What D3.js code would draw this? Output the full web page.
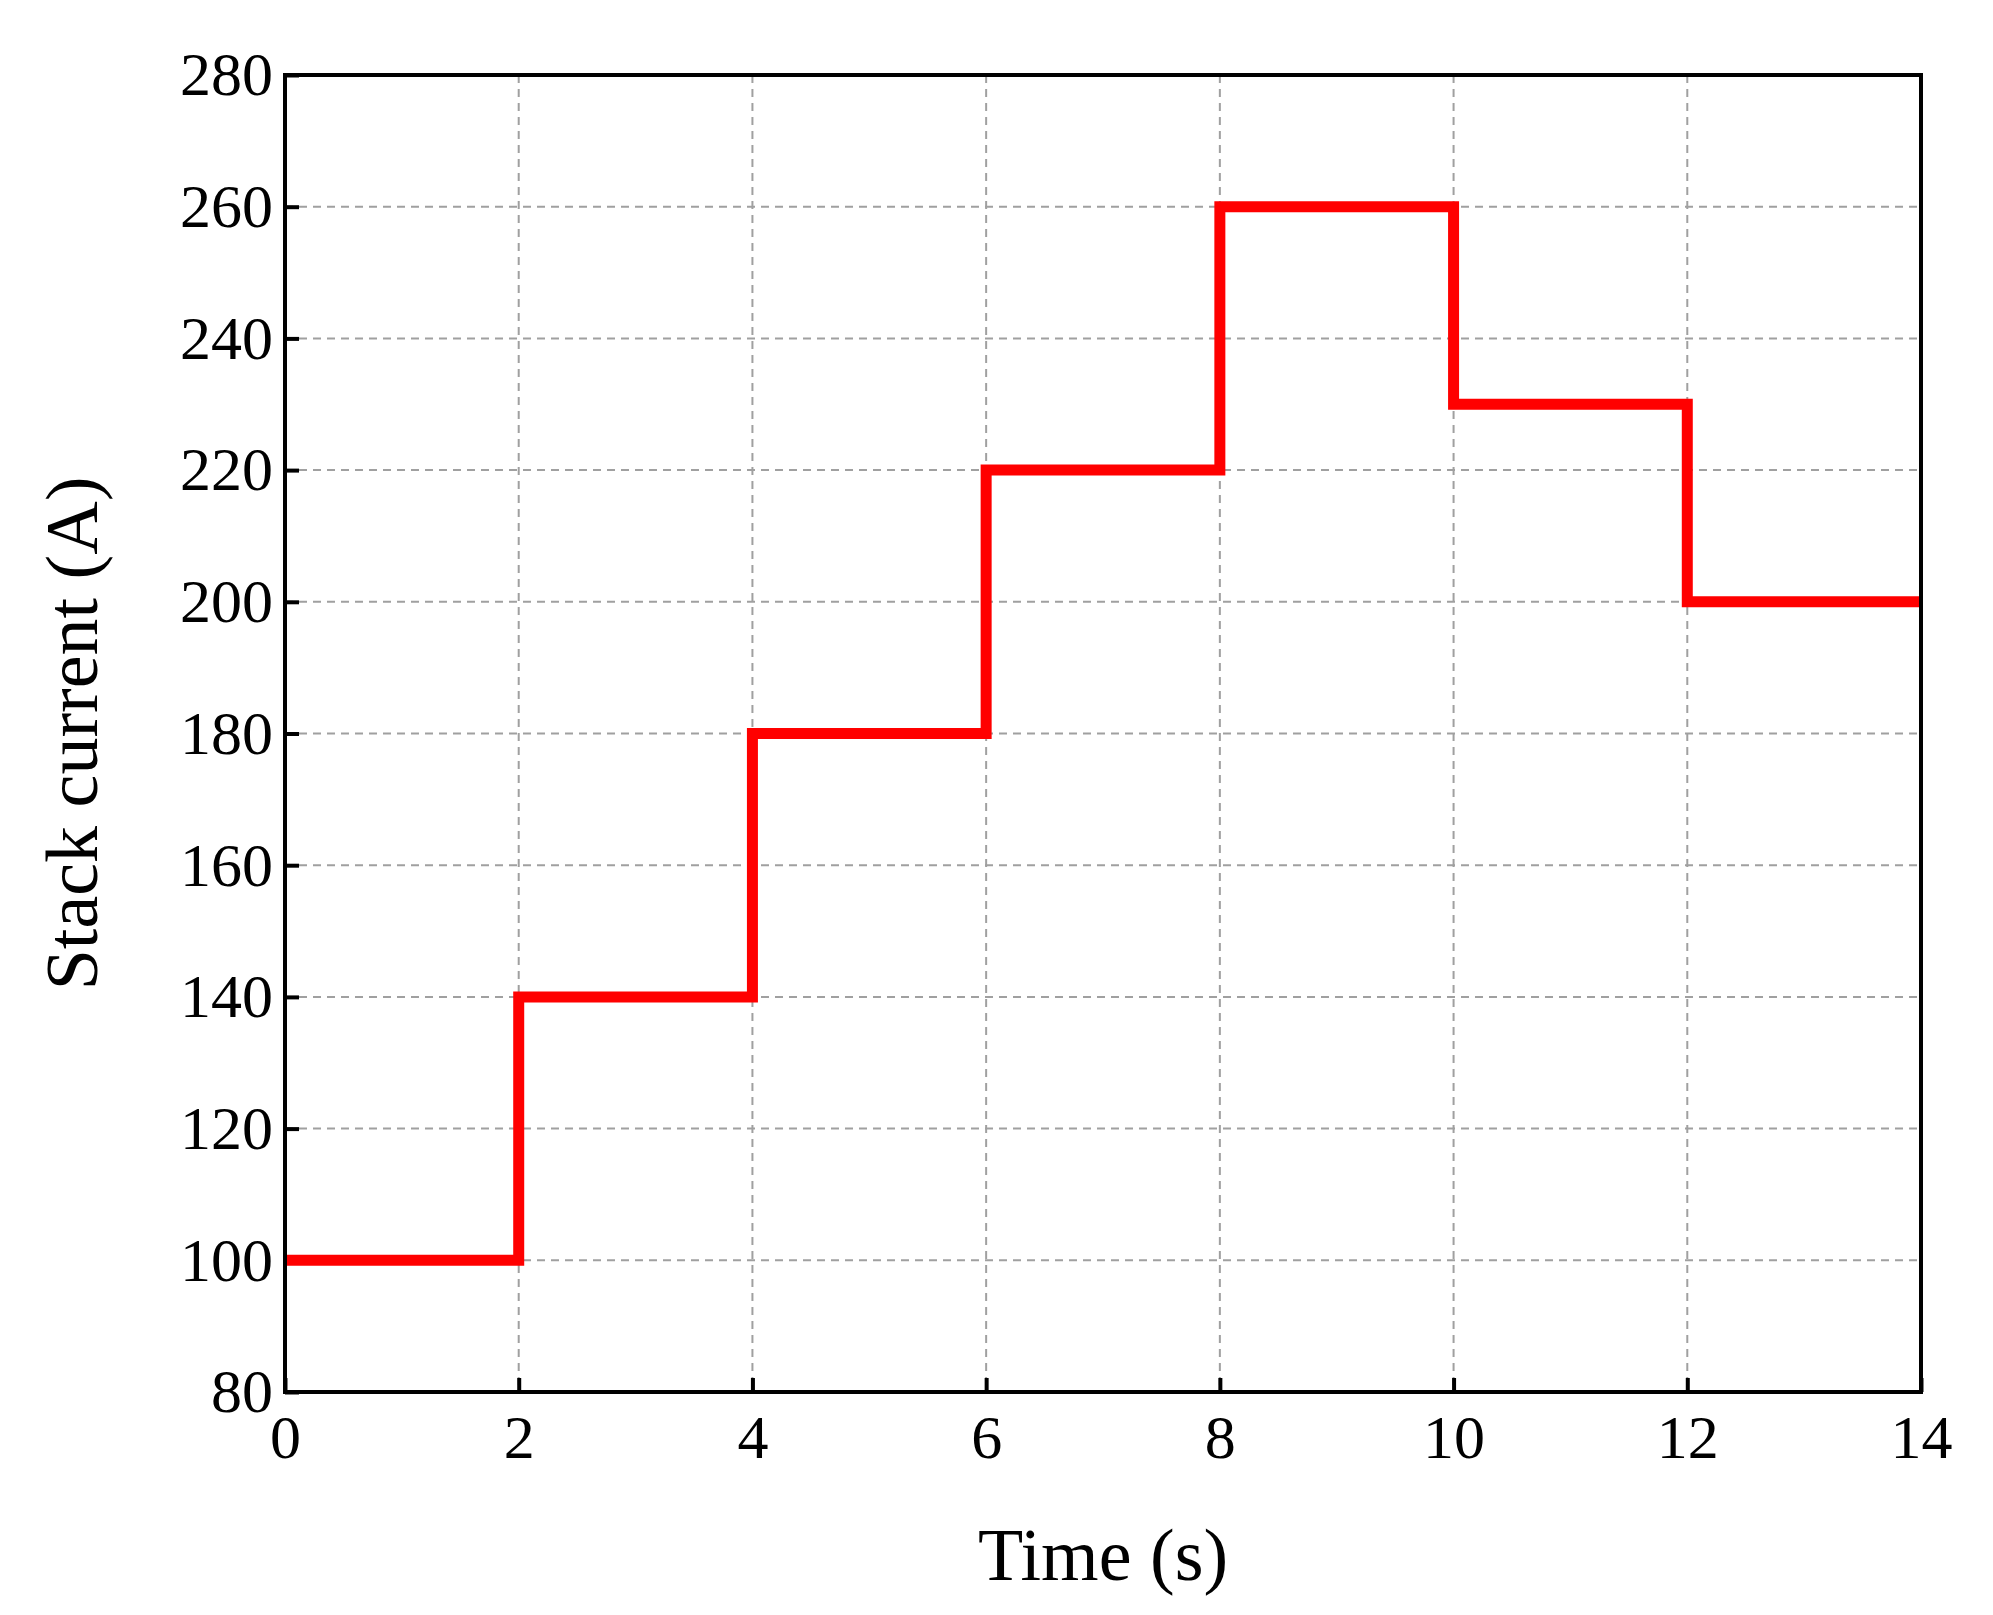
<!DOCTYPE html>
<html lang="en">
<head>
<meta charset="utf-8">
<script src="https://d3js.org/d3.v7.min.js"></script>
<style>
  body { margin: 0; background: #fff; }
  text { font-family: "Liberation Serif", "DejaVu Serif", serif; fill: #000; }
</style>
</head>
<body>
<svg id="chart" width="1993" height="1615"></svg>
<script>
  // step points: current held from t until next t
  var times = [0, 2, 4, 6, 8, 10, 12, 14]
  var current = [100, 140, 180, 220, 260, 230, 200, 200]
  var xTicks = [0, 2, 4, 6, 8, 10, 12, 14]
  var yTicks = [80, 100, 120, 140, 160, 180, 200, 220, 240, 260, 280]

  var svg = d3.select('#chart')
  var pL = 285, pT = 75, pR = 1921, pB = 1392

  var x = d3.scaleLinear().domain([0, 14]).range([pL, pR])
  var y = d3.scaleLinear().domain([80, 280]).range([pB, pT])

  // grid
  svg.append('g').selectAll('line').data(xTicks.slice(1, -1)).enter().append('line')
    .attr('x1', function (d) { return x(d) }).attr('x2', function (d) { return x(d) })
    .attr('y1', pT).attr('y2', pB)
    .attr('stroke', '#a0a0a0').attr('stroke-width', 2).attr('stroke-dasharray', '8,6')
  svg.append('g').selectAll('line').data(yTicks.slice(1, -1)).enter().append('line')
    .attr('y1', function (d) { return y(d) }).attr('y2', function (d) { return y(d) })
    .attr('x1', pL).attr('x2', pR)
    .attr('stroke', '#a0a0a0').attr('stroke-width', 2).attr('stroke-dasharray', '8,6')

  // axes with inward ticks
  var xAxis = svg.append('g').attr('transform', 'translate(0,' + pB + ')')
    .call(d3.axisBottom(x).tickValues(xTicks).tickSize(-14).tickPadding(22))
  var yAxis = svg.append('g').attr('transform', 'translate(' + pL + ',0)')
    .call(d3.axisLeft(y).tickValues(yTicks).tickSize(-14).tickPadding(12))
  ;[xAxis, yAxis].forEach(function (a) {
    a.select('.domain').remove()
    a.selectAll('line').attr('stroke', '#000').attr('stroke-width', 4)
    a.selectAll('text').style('font-size', '62px').style('font-family', '"Liberation Serif", serif')
  })

  // step line
  var line = d3.line().curve(d3.curveStepAfter)
    .x(function (d, i) { return x(times[i]) })
    .y(function (d) { return y(d) })
  svg.append('path').datum(current)
    .attr('d', line).attr('fill', 'none')
    .attr('stroke', '#ff0000').attr('stroke-width', 11)

  // frame
  svg.append('rect').attr('x', pL).attr('y', pT)
    .attr('width', pR - pL).attr('height', pB - pT)
    .attr('fill', 'none').attr('stroke', '#000').attr('stroke-width', 4)

  svg.append('text').attr('x', (pL + pR) / 2).attr('y', 1580)
    .attr('text-anchor', 'middle').style('font-size', '74px').text('Time (s)')
  svg.append('text').attr('transform', 'translate(97,' + (pT + pB) / 2 + ') rotate(-90)')
    .attr('text-anchor', 'middle').style('font-size', '74px').text('Stack current (A)')
</script>
</body>
</html>
